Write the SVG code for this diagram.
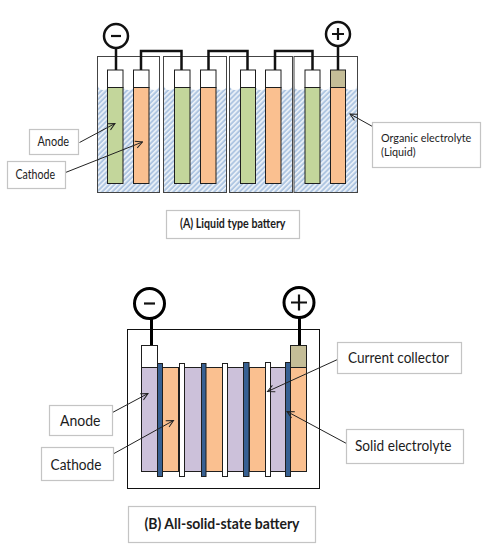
<svg xmlns="http://www.w3.org/2000/svg" width="487" height="547" viewBox="0 0 487 547">
<style>
text{font-family:Lato,"Open Sans","Liberation Sans",sans-serif;fill:#1c1c1c}
.a text{font-size:13px}
.a text.n{font-size:10.800px}
.b text{font-size:15.500px}
.t{font-weight:700}
.box{fill:#fff;stroke:#c4c4c4;stroke-width:1.2}
.cell{fill:none;stroke:#444;stroke-width:1}
.liq{fill:url(#hatch)}
.e{stroke:#1e1e1e;stroke-width:1}
.term{fill:#fff}
.an{fill:#c3d69b}
.ca{fill:#fac090}
.tan{fill:#c4bd97}
.pu{fill:#ccc1da}
.bl{fill:#376092}
.wire{fill:none;stroke:#111;stroke-width:2.500}
.wireb{fill:none;stroke:#000;stroke-width:3}
.ring{fill:#fff;stroke:#111;stroke-width:2.500}
.ringb{fill:#fff;stroke:#000;stroke-width:3}
.sign{fill:none;stroke:#111;stroke-width:2.200}
.lead{fill:none;stroke:#222;stroke-width:1;marker-end:url(#arr)}
</style>
<defs>
<pattern id="hatch" width="3.600" height="3.600" patternUnits="userSpaceOnUse" patternTransform="rotate(45)">
<rect width="3.600" height="3.600" fill="#afc6e2"/>
<rect width="1.600" height="3.600" fill="#eef3f9"/>
</pattern>
<marker id="arr" markerWidth="10" markerHeight="10" refX="9" refY="5" orient="auto" markerUnits="userSpaceOnUse">
<path d="M2 1.500L9 5L2 8.500" fill="none" stroke="#222" stroke-width="1"/>
</marker>
</defs>
<rect width="487" height="547" fill="#fff"/>

<g id="battery-a">
<g id="cell-a1">
<path class="liq" d="M98 86Q99 90 103 90Q107 90 108 87L123 87Q124 90 128.500 90Q133 90 134 87L149 87Q150 90 154 90Q158 90 159 86V193H98Z"/>
<rect class="cell" x="97.500" y="56.500" width="62" height="136"/>
<rect class="e term" x="107.500" y="70" width="15.500" height="17.500"/>
<rect class="e an" x="107.500" y="87.500" width="15.500" height="96"/>
<rect class="e term" x="133.500" y="70" width="15.500" height="17.500"/>
<rect class="e ca" x="133.500" y="87.500" width="15.500" height="96"/>
</g>
<g id="cell-a2">
<path class="liq" d="M164 86Q165 90 169 90Q174 90 175 87L190 87Q191 90 195.500 90Q200 90 201 87L216 87Q217 90 221 90Q226 90 227 86V193H164Z"/>
<rect class="cell" x="163.500" y="56.500" width="63" height="136"/>
<rect class="e term" x="174.500" y="70" width="15.500" height="17.500"/>
<rect class="e an" x="174.500" y="87.500" width="15.500" height="96"/>
<rect class="e term" x="200.500" y="70" width="15.500" height="17.500"/>
<rect class="e ca" x="200.500" y="87.500" width="15.500" height="96"/>
</g>
<g id="cell-a3">
<path class="liq" d="M229.500 86Q231 90 235 90Q239 90 240.500 87L255.500 87Q257 90 261 90Q265 90 266 87L281 87Q282 90 286 90Q291 90 292.500 86V193H229.500Z"/>
<rect class="cell" x="229.500" y="56.500" width="63" height="136"/>
<rect class="e term" x="240.500" y="70" width="15" height="17.500"/>
<rect class="e an" x="240.500" y="87.500" width="15" height="96"/>
<rect class="e term" x="265.500" y="70" width="15.500" height="17.500"/>
<rect class="e ca" x="265.500" y="87.500" width="15.500" height="96"/>
</g>
<g id="cell-a4">
<path class="liq" d="M294 86Q295 90 299 90Q304 90 305 87L320 87Q321 90 325 90Q329 90 330 87L345 87Q346 90 351 90Q356 90 357 86V193H294Z"/>
<rect class="cell" x="294" y="56.500" width="63.500" height="136"/>
<rect class="e term" x="305" y="70" width="15" height="17.500"/>
<rect class="e an" x="305" y="87.500" width="15" height="96"/>
<rect class="e tan" x="330.500" y="70" width="15" height="17.500"/>
<rect class="e ca" x="330.500" y="87.500" width="15" height="96"/>
</g>
</g>

<g id="battery-b">
<rect x="127.500" y="329.500" width="192" height="159" fill="#fff" stroke="#111" stroke-width="1"/>
<rect class="e term" x="141.500" y="345.500" width="16" height="22"/>
<rect class="e tan" x="290.500" y="345.500" width="16" height="22"/>
<rect class="e pu" x="141.500" y="367.500" width="16" height="104"/>
<rect class="e ca" x="162.500" y="367.500" width="16" height="104"/>
<rect class="e pu" x="184.500" y="367.500" width="17" height="104"/>
<rect class="e ca" x="205.500" y="367.500" width="17" height="104"/>
<rect class="e pu" x="227.500" y="367.500" width="16" height="104"/>
<rect class="e ca" x="249.500" y="367.500" width="16" height="104"/>
<rect class="e pu" x="270.500" y="367.500" width="15" height="104"/>
<rect class="e ca" x="290.500" y="367.500" width="16" height="104"/>
<rect class="e bl" x="157.500" y="363.500" width="5" height="113"/>
<rect class="e term" x="179.500" y="363.500" width="5" height="113"/>
<rect class="e bl" x="201.500" y="363.500" width="4.500" height="113"/>
<rect class="e term" x="222.500" y="363.500" width="5" height="113"/>
<rect class="e bl" x="243.500" y="362.500" width="5.500" height="114"/>
<rect class="e term" x="265.500" y="362.500" width="5" height="114"/>
<rect class="e bl" x="285.500" y="362.500" width="5" height="114"/>
</g>

<g id="connectors">
<path class="wire" d="M116 48V70"/>
<path class="wire" d="M141 70V51H181.500V70"/>
<path class="wire" d="M208.500 70V51H247.500V70"/>
<path class="wire" d="M275 70V51H312.500V70"/>
<path class="wire" d="M338 46V70"/>
<path class="wireb" d="M151.500 318V345"/>
<path class="wireb" d="M299.500 318V345"/>
<path class="lead" d="M79.500 142.500L115 123.500"/>
<path class="lead" d="M65.500 172.500L142.500 142"/>
<path class="lead" d="M372.500 126.500L350 114"/>
<path class="lead" d="M112.500 412.500L148 393.500"/>
<path class="lead" d="M114 453.500L173.500 420.500"/>
<path class="lead" d="M337.500 359.500L267.500 391.500"/>
<path class="lead" d="M346.500 443.500L287 411.500"/>
</g>

<g id="minus-a"><circle class="ring" cx="116" cy="36" r="12"/><path class="sign" d="M111 36H121"/></g>
<g id="plus-a"><circle class="ring" cx="338" cy="34" r="12"/><path class="sign" d="M332 34H344M338 28V40"/></g>
<g id="minus-b"><circle class="ringb" cx="149.500" cy="303.500" r="15"/><path class="sign" d="M144 303.500H155" stroke-width="3"/></g>
<g id="plus-b"><circle class="ringb" cx="299" cy="302.500" r="15"/><path class="sign" d="M291 302.500H307M299 294.500V310.500"/></g>

<g id="label-anode-a" class="a"><rect class="box" x="29.500" y="129.500" width="49" height="25"/><text x="37.500" y="145.500" textLength="31.500" lengthAdjust="spacingAndGlyphs">Anode</text></g>
<g id="label-cathode-a" class="a"><rect class="box" x="7.500" y="161.500" width="58" height="27"/><text x="15.500" y="178.500" textLength="39.500" lengthAdjust="spacingAndGlyphs">Cathode</text></g>
<g id="label-electrolyte" class="a"><rect class="box" x="372.500" y="122.500" width="108" height="45"/><text class="n" x="381" y="141.500">Organic electrolyte</text><text class="n" x="381" y="156">(Liquid)</text></g>
<g id="title-a" class="a"><rect class="box" x="166.500" y="210.500" width="133" height="28"/><text class="t" x="180" y="228" textLength="105.500" lengthAdjust="spacingAndGlyphs">(A) Liquid type battery</text></g>

<g id="label-anode-b" class="b"><rect class="box" x="49.500" y="405.500" width="63" height="30"/><text x="60" y="426" textLength="40.500" lengthAdjust="spacingAndGlyphs">Anode</text></g>
<g id="label-cathode-b" class="b"><rect class="box" x="41.500" y="447.500" width="72" height="33"/><text x="50.500" y="470" textLength="51" lengthAdjust="spacingAndGlyphs">Cathode</text></g>
<g id="label-collector" class="b"><rect class="box" x="337.500" y="342.500" width="124" height="31"/><text x="348" y="363" textLength="101" lengthAdjust="spacingAndGlyphs">Current collector</text></g>
<g id="label-solid" class="b"><rect class="box" x="346.500" y="429.500" width="117" height="34"/><text x="355" y="451" textLength="96.500" lengthAdjust="spacingAndGlyphs">Solid electrolyte</text></g>
<g id="title-b" class="b"><rect class="box" x="128.500" y="506.500" width="187" height="36"/><text class="t" x="144.500" y="529" textLength="155" lengthAdjust="spacingAndGlyphs">(B) All-solid-state battery</text></g>
</svg>
